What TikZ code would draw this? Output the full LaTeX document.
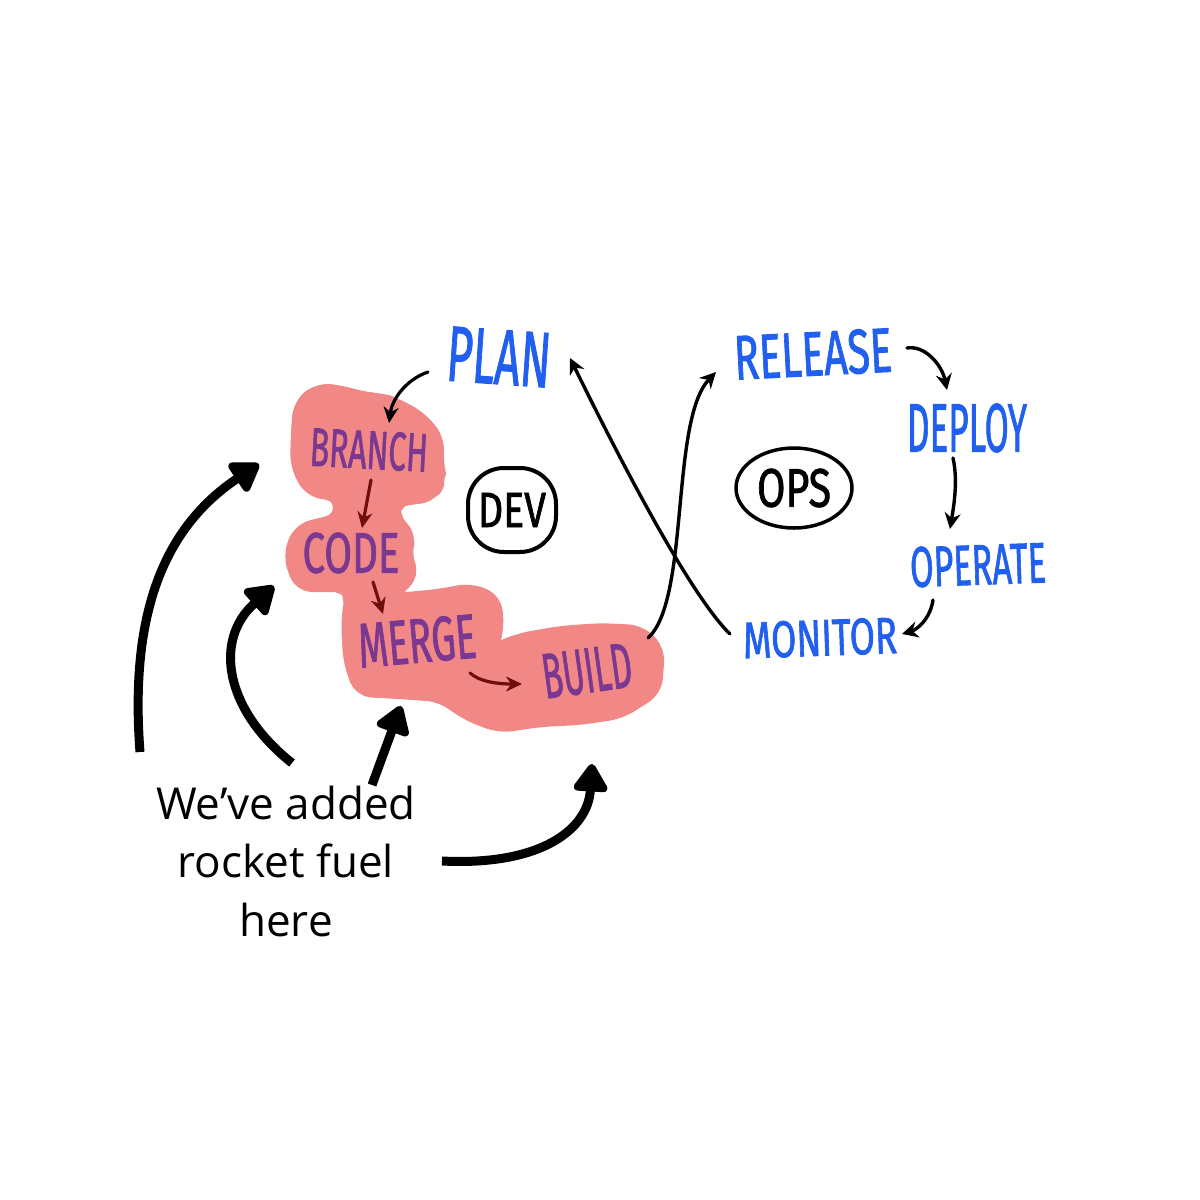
\documentclass[tikz,border=0pt]{standalone}
\usepackage{fontspec}
\usepackage{graphicx}
\setmainfont{Open Sans}
\newfontfamily\handfont[FakeBold=1.6]{Fira Sans}
\usetikzlibrary{arrows.meta,shapes.geometric}
\definecolor{hblue}{RGB}{33,96,238}
\definecolor{hpurple}{RGB}{122,56,145}
\definecolor{hpink}{RGB}{241,136,134}
\definecolor{hdark}{RGB}{112,14,14}
\tikzset{
  lbl/.style={inner sep=0pt, font=\handfont},
  bluelbl/.style={lbl, text=hblue},
  purplelbl/.style={lbl, text=hpurple},
  thinarrow/.style={line width=3.4pt, line cap=round, -{Stealth[length=16pt,width=16pt]}},
  redarrow/.style={line width=3.2pt, line cap=round, draw=hdark, -{Stealth[length=16pt,width=15pt,fill=hdark]}},
  fuelarrow/.style={line width=9pt, -{Triangle[length=31pt,width=38pt,round]}},
}
\begin{document}
\begin{tikzpicture}[x=1pt,y=-1pt]
\fill[white] (0,0) rectangle (1200,1200);
\useasboundingbox (0,0) rectangle (1200,1200);

% pink highlight blob
\filldraw[hpink, line width=14pt, line join=round, rounded corners=12pt]
 (300,405) -- (318,390) -- (340,392) -- (360,398) -- (378,400) -- (392,403) -- (420,418) -- (438,440) -- (436,462) -- (440,478)
 -- (432,495) -- (410,498) -- (395,500) -- (393,520) -- (410,535) -- (404,555) -- (413,575) -- (395,590) -- (392,600)
 -- (420,598) -- (445,595) -- (470,590) -- (495,600) -- (497,630) -- (490,652) -- (520,640) -- (560,633)
 -- (600,630) -- (640,632) -- (658,650) -- (655,690) -- (620,712) -- (580,718) -- (540,720)
 -- (500,726) -- (470,715) -- (440,695) -- (400,692) -- (360,690) -- (350,660) -- (348,620)
 -- (352,595) -- (345,585) -- (300,585) -- (290,555) -- (300,530) -- (340,520) -- (340,495)
 -- (310,490) -- (297,465) -- (298,430) -- cycle;

% DEV labels
\node[bluelbl, rotate=-4] (plan) at (499,357) {\resizebox{104pt}{54pt}{PLAN}};
\node[purplelbl, rotate=-3] (branch) at (369,450) {\resizebox{118pt}{38pt}{BRANCH}};
\node[purplelbl] (code) at (351,553) {\resizebox{97pt}{40pt}{CODE}};
\node[purplelbl, rotate=5] (merge) at (417,641) {\resizebox{118pt}{44pt}{MERGE}};
\node[purplelbl, rotate=8] (build) at (587,671) {\resizebox{90pt}{44pt}{BUILD}};

% OPS labels
\node[bluelbl, rotate=3] (release) at (813,354) {\resizebox{158pt}{44pt}{RELEASE}};
\node[bluelbl] (deploy) at (967,428) {\resizebox{120pt}{48pt}{DEPLOY}};
\node[bluelbl, rotate=2] (operate) at (978,565) {\resizebox{136pt}{40pt}{OPERATE}};
\node[bluelbl, rotate=2] (monitor) at (820,638) {\resizebox{154pt}{36pt}{MONITOR}};

% DEV / OPS badges
\node[draw, line width=4pt, rounded corners=36pt, minimum width=88pt, minimum height=84pt,
      inner sep=0pt, font=\handfont] (dev) at (512,510) {\resizebox{68pt}{34pt}{DEV}};
\node[draw, ellipse, line width=3.5pt, minimum width=116pt, minimum height=80pt,
      inner sep=0pt, font=\handfont] (ops) at (794,488) {\resizebox{74pt}{38pt}{OPS}};

% DEV flow
\draw[line width=3.2pt, line cap=round, -{Stealth[length=16pt,width=15pt,fill=hdark]}]
  ([shift={(-71,15)}]plan.center) .. controls (405,380) and (392,400) .. ([shift={(20,-27)}]branch.center);
\draw[redarrow] ([shift={(2,30)}]branch.center) -- ([shift={(11,-25)}]code.center);
\draw[redarrow] ([shift={(22,29)}]code.center) -- ([shift={(-34,-27)}]merge.center);
\draw[redarrow] ([shift={(53,32)}]merge.center) .. controls (480,682) and (498,684) .. ([shift={(-65,13)}]build.center);

% crossing connectors
\draw[thinarrow] ([shift={(61,-33)}]build.center) .. controls (690,600) and (670,420) .. ([shift={(-97,18)}]release.center);
\draw[thinarrow] ([shift={(-90,-4)}]monitor.center) .. controls (690,595) and (620,460) .. ([shift={(71,1)}]plan.center);

% OPS flow
\draw[thinarrow] ([shift={(94,-6)}]release.center) .. controls (925,345) and (942,365) .. ([shift={(-20,-38)}]deploy.center);
\draw[thinarrow] ([shift={(-14,30)}]deploy.center) .. controls (958,480) and (954,505) .. ([shift={(-28,-36)}]operate.center);
\draw[thinarrow] ([shift={(-45,35)}]operate.center) .. controls (930,620) and (916,630) .. ([shift={(82,-4)}]monitor.center);

% caption and rocket-fuel arrows
\node[align=center, font=\fontsize{44}{58.5}\selectfont, inner sep=0pt] (fuel) at (286,861)
  {We’ve added\\rocket fuel\\here};
\coordinate (t1) at (259,464);
\coordinate (t2) at (274,586);
\coordinate (t3) at (401,706);
\coordinate (t4) at (592,764);
\draw[fuelarrow] ([shift={(-146,-109)}]fuel.center) .. controls (130,620) and (160,530) .. (t1);
\draw[fuelarrow] ([shift={(6,-98)}]fuel.center) .. controls (225,710) and (213,640) .. (t2);
\draw[fuelarrow] ([shift={(86,-76)}]fuel.center) -- (t3);
\draw[fuelarrow] ([shift={(156,0)}]fuel.center) .. controls (540,866) and (588,830) .. (t4);
\end{tikzpicture}
\end{document}
